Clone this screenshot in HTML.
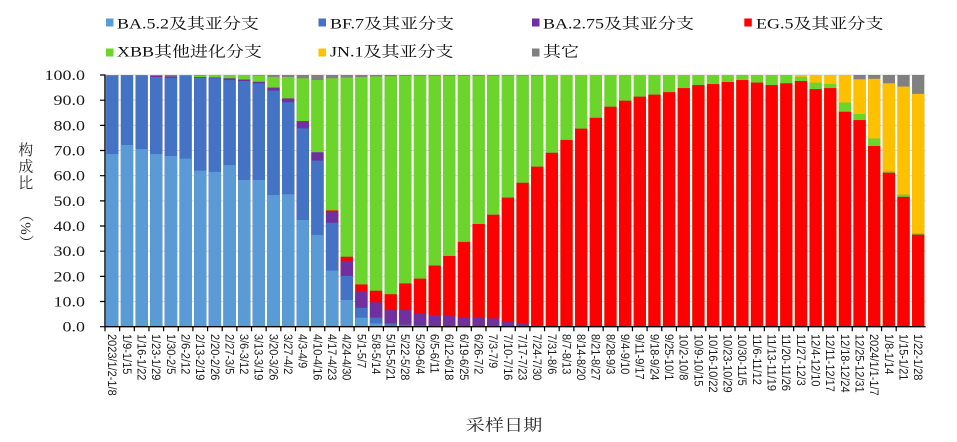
<!DOCTYPE html>
<html><head><meta charset="utf-8">
<style>
html,body{margin:0;padding:0;background:#fff;}
svg{display:block;}
.o{fill:#808080}.j{fill:#ffc000}.x{fill:#6cd52c}.e{fill:#ff0000}.p{fill:#7030a0}.b{fill:#4472c4}.a{fill:#5b9bd5}
.lg{font-family:"Liberation Serif","Noto Serif CJK SC",serif;font-size:15px;fill:#111;}
.yl{font-family:"Liberation Serif",serif;font-size:15px;fill:#1a1a1a;}
.xl{font-family:"Liberation Sans",sans-serif;font-size:11px;fill:#1a1a1a;}
.tt{font-family:"Liberation Serif","Noto Serif CJK SC",serif;fill:#2a2a2a;}
</style></head><body>
<svg width="957" height="442" viewBox="0 0 957 442" xmlns="http://www.w3.org/2000/svg">
<rect width="957" height="442" fill="#fff"/>
<!-- legend -->
<rect x="106" y="18.5" width="7.5" height="8" class="a"/>
<text class="lg" transform="translate(117,28.3) scale(1.2,1)">BA.5.2及其亚分支</text>
<rect x="318.5" y="18.5" width="7.5" height="8" class="b"/>
<text class="lg" transform="translate(330,28.3) scale(1.2,1)">BF.7及其亚分支</text>
<rect x="532" y="18.5" width="7.5" height="8" class="p"/>
<text class="lg" transform="translate(543,28.3) scale(1.2,1)">BA.2.75及其亚分支</text>
<rect x="744.3" y="18.5" width="7.5" height="8" class="e"/>
<text class="lg" transform="translate(756,28.3) scale(1.2,1)">EG.5及其亚分支</text>
<rect x="106" y="48.5" width="7.5" height="8" class="x"/>
<text class="lg" transform="translate(117,56.5) scale(1.2,1)">XBB其他进化分支</text>
<rect x="318.5" y="48.5" width="7.5" height="8" class="j"/>
<text class="lg" transform="translate(330,56.5) scale(1.2,1)">JN.1及其亚分支</text>
<rect x="532" y="48.5" width="7.5" height="8" class="o"/>
<text class="lg" transform="translate(543,56.5) scale(1.2,1)">其它</text>

<!-- gridlines -->
<g stroke="#d9d9d9" stroke-width="1">
<line x1="105" x2="925.5" y1="75" y2="75"/>
<line x1="105" x2="925.5" y1="100.17" y2="100.17"/>
<line x1="105" x2="925.5" y1="125.34" y2="125.34"/>
<line x1="105" x2="925.5" y1="150.51" y2="150.51"/>
<line x1="105" x2="925.5" y1="175.68" y2="175.68"/>
<line x1="105" x2="925.5" y1="200.85" y2="200.85"/>
<line x1="105" x2="925.5" y1="226.02" y2="226.02"/>
<line x1="105" x2="925.5" y1="251.19" y2="251.19"/>
<line x1="105" x2="925.5" y1="276.36" y2="276.36"/>
<line x1="105" x2="925.5" y1="301.53" y2="301.53"/>
</g>

<!-- bars -->
<g transform="translate(105,326.7) scale(14.652,-2.517)">
<rect x="0.08" width="0.84" height="100" class="o"/><rect x="0.08" width="0.84" height="99.6" class="b"/><rect x="0.08" width="0.84" height="68.6" class="a"/>
<rect x="1.08" width="0.84" height="100" class="o"/><rect x="1.08" width="0.84" height="99.8" class="b"/><rect x="1.08" width="0.84" height="72.2" class="a"/>
<rect x="2.08" width="0.84" height="100" class="o"/><rect x="2.08" width="0.84" height="99.7" class="b"/><rect x="2.08" width="0.84" height="70.6" class="a"/>
<rect x="3.08" width="0.84" height="100" class="o"/><rect x="3.08" width="0.84" height="99.6" class="p"/><rect x="3.08" width="0.84" height="99.2" class="b"/><rect x="3.08" width="0.84" height="68.6" class="a"/>
<rect x="4.08" width="0.84" height="100" class="o"/><rect x="4.08" width="0.84" height="99.4" class="p"/><rect x="4.08" width="0.84" height="98.9" class="b"/><rect x="4.08" width="0.84" height="67.8" class="a"/>
<rect x="5.08" width="0.84" height="100" class="o"/><rect x="5.08" width="0.84" height="99.6" class="b"/><rect x="5.08" width="0.84" height="66.8" class="a"/>
<rect x="6.08" width="0.84" height="100" class="o"/><rect x="6.08" width="0.84" height="99.8" class="x"/><rect x="6.08" width="0.84" height="99.2" class="p"/><rect x="6.08" width="0.84" height="99.0" class="b"/><rect x="6.08" width="0.84" height="62.0" class="a"/>
<rect x="7.08" width="0.84" height="100" class="x"/><rect x="7.08" width="0.84" height="99.0" class="p"/><rect x="7.08" width="0.84" height="98.7" class="b"/><rect x="7.08" width="0.84" height="61.5" class="a"/>
<rect x="8.08" width="0.84" height="100" class="x"/><rect x="8.08" width="0.84" height="98.7" class="p"/><rect x="8.08" width="0.84" height="98.0" class="b"/><rect x="8.08" width="0.84" height="64.2" class="a"/>
<rect x="9.08" width="0.84" height="100" class="x"/><rect x="9.08" width="0.84" height="98.2" class="p"/><rect x="9.08" width="0.84" height="97.6" class="b"/><rect x="9.08" width="0.84" height="58.3" class="a"/>
<rect x="10.08" width="0.84" height="100" class="o"/><rect x="10.08" width="0.84" height="99.8" class="x"/><rect x="10.08" width="0.84" height="97.3" class="p"/><rect x="10.08" width="0.84" height="96.7" class="b"/><rect x="10.08" width="0.84" height="58.3" class="a"/>
<rect x="11.08" width="0.84" height="100" class="o"/><rect x="11.08" width="0.84" height="99.2" class="x"/><rect x="11.08" width="0.84" height="95.0" class="p"/><rect x="11.08" width="0.84" height="93.8" class="b"/><rect x="11.08" width="0.84" height="52.3" class="a"/>
<rect x="12.08" width="0.84" height="100" class="o"/><rect x="12.08" width="0.84" height="99.2" class="x"/><rect x="12.08" width="0.84" height="90.7" class="p"/><rect x="12.08" width="0.84" height="89.2" class="b"/><rect x="12.08" width="0.84" height="52.6" class="a"/>
<rect x="13.08" width="0.84" height="100" class="o"/><rect x="13.08" width="0.84" height="98.7" class="x"/><rect x="13.08" width="0.84" height="81.7" class="p"/><rect x="13.08" width="0.84" height="78.8" class="b"/><rect x="13.08" width="0.84" height="42.4" class="a"/>
<rect x="14.08" width="0.84" height="100" class="o"/><rect x="14.08" width="0.84" height="98.0" class="x"/><rect x="14.08" width="0.84" height="69.3" class="p"/><rect x="14.08" width="0.84" height="66.0" class="b"/><rect x="14.08" width="0.84" height="36.4" class="a"/>
<rect x="15.08" width="0.84" height="100" class="o"/><rect x="15.08" width="0.84" height="98.7" class="x"/><rect x="15.08" width="0.84" height="46.2" class="e"/><rect x="15.08" width="0.84" height="45.7" class="p"/><rect x="15.08" width="0.84" height="41.3" class="b"/><rect x="15.08" width="0.84" height="22.3" class="a"/>
<rect x="16.08" width="0.84" height="100" class="o"/><rect x="16.08" width="0.84" height="99.0" class="x"/><rect x="16.08" width="0.84" height="27.8" class="e"/><rect x="16.08" width="0.84" height="26.2" class="p"/><rect x="16.08" width="0.84" height="20.2" class="b"/><rect x="16.08" width="0.84" height="10.6" class="a"/>
<rect x="17.08" width="0.84" height="100" class="o"/><rect x="17.08" width="0.84" height="99.2" class="x"/><rect x="17.08" width="0.84" height="16.8" class="e"/><rect x="17.08" width="0.84" height="14.2" class="p"/><rect x="17.08" width="0.84" height="7.5" class="b"/><rect x="17.08" width="0.84" height="3.6" class="a"/>
<rect x="18.08" width="0.84" height="100" class="o"/><rect x="18.08" width="0.84" height="99.4" class="x"/><rect x="18.08" width="0.84" height="14.3" class="e"/><rect x="18.08" width="0.84" height="9.7" class="p"/><rect x="18.08" width="0.84" height="3.6" class="b"/><rect x="18.08" width="0.84" height="1.3" class="a"/>
<rect x="19.08" width="0.84" height="100" class="o"/><rect x="19.08" width="0.84" height="99.5" class="x"/><rect x="19.08" width="0.84" height="12.9" class="e"/><rect x="19.08" width="0.84" height="6.6" class="p"/><rect x="19.08" width="0.84" height="1.3" class="b"/><rect x="19.08" width="0.84" height="0.3" class="a"/>
<rect x="20.08" width="0.84" height="100" class="o"/><rect x="20.08" width="0.84" height="99.6" class="x"/><rect x="20.08" width="0.84" height="17.2" class="e"/><rect x="20.08" width="0.84" height="6.6" class="p"/><rect x="20.08" width="0.84" height="0.8" class="b"/><rect x="20.08" width="0.84" height="0.2" class="a"/>
<rect x="21.08" width="0.84" height="100" class="o"/><rect x="21.08" width="0.84" height="99.7" class="x"/><rect x="21.08" width="0.84" height="19.1" class="e"/><rect x="21.08" width="0.84" height="5.3" class="p"/><rect x="21.08" width="0.84" height="0.5" class="b"/>
<rect x="22.08" width="0.84" height="100" class="o"/><rect x="22.08" width="0.84" height="99.7" class="x"/><rect x="22.08" width="0.84" height="24.3" class="e"/><rect x="22.08" width="0.84" height="4.6" class="p"/>
<rect x="23.08" width="0.84" height="100" class="o"/><rect x="23.08" width="0.84" height="99.7" class="x"/><rect x="23.08" width="0.84" height="28.1" class="e"/><rect x="23.08" width="0.84" height="4.2" class="p"/>
<rect x="24.08" width="0.84" height="100" class="o"/><rect x="24.08" width="0.84" height="99.7" class="x"/><rect x="24.08" width="0.84" height="33.7" class="e"/><rect x="24.08" width="0.84" height="3.8" class="p"/>
<rect x="25.08" width="0.84" height="100" class="o"/><rect x="25.08" width="0.84" height="99.7" class="x"/><rect x="25.08" width="0.84" height="40.8" class="e"/><rect x="25.08" width="0.84" height="3.6" class="p"/>
<rect x="26.08" width="0.84" height="100" class="o"/><rect x="26.08" width="0.84" height="99.7" class="x"/><rect x="26.08" width="0.84" height="44.5" class="e"/><rect x="26.08" width="0.84" height="3.3" class="p"/>
<rect x="27.08" width="0.84" height="100" class="o"/><rect x="27.08" width="0.84" height="99.8" class="x"/><rect x="27.08" width="0.84" height="51.3" class="e"/><rect x="27.08" width="0.84" height="2.0" class="p"/>
<rect x="28.08" width="0.84" height="100" class="o"/><rect x="28.08" width="0.84" height="99.8" class="x"/><rect x="28.08" width="0.84" height="57.2" class="e"/><rect x="28.08" width="0.84" height="1.4" class="p"/>
<rect x="29.08" width="0.84" height="100" class="o"/><rect x="29.08" width="0.84" height="99.8" class="x"/><rect x="29.08" width="0.84" height="63.6" class="e"/><rect x="29.08" width="0.84" height="0.5" class="p"/>
<rect x="30.08" width="0.84" height="100" class="x"/><rect x="30.08" width="0.84" height="69.1" class="e"/>
<rect x="31.08" width="0.84" height="100" class="x"/><rect x="31.08" width="0.84" height="74.2" class="e"/>
<rect x="32.08" width="0.84" height="100" class="x"/><rect x="32.08" width="0.84" height="78.7" class="e"/>
<rect x="33.08" width="0.84" height="100" class="x"/><rect x="33.08" width="0.84" height="83.0" class="e"/>
<rect x="34.08" width="0.84" height="100" class="x"/><rect x="34.08" width="0.84" height="87.4" class="e"/>
<rect x="35.08" width="0.84" height="100" class="x"/><rect x="35.08" width="0.84" height="89.8" class="e"/>
<rect x="36.08" width="0.84" height="100" class="x"/><rect x="36.08" width="0.84" height="91.4" class="e"/>
<rect x="37.08" width="0.84" height="100" class="x"/><rect x="37.08" width="0.84" height="92.2" class="e"/>
<rect x="38.08" width="0.84" height="100" class="x"/><rect x="38.08" width="0.84" height="93.2" class="e"/>
<rect x="39.08" width="0.84" height="100" class="x"/><rect x="39.08" width="0.84" height="94.8" class="e"/>
<rect x="40.08" width="0.84" height="100" class="x"/><rect x="40.08" width="0.84" height="96.0" class="e"/>
<rect x="41.08" width="0.84" height="100" class="x"/><rect x="41.08" width="0.84" height="96.4" class="e"/>
<rect x="42.08" width="0.84" height="100" class="x"/><rect x="42.08" width="0.84" height="97.2" class="e"/>
<rect x="43.08" width="0.84" height="100" class="x"/><rect x="43.08" width="0.84" height="98.0" class="e"/>
<rect x="44.08" width="0.84" height="100" class="x"/><rect x="44.08" width="0.84" height="97.0" class="e"/>
<rect x="45.08" width="0.84" height="100" class="x"/><rect x="45.08" width="0.84" height="96.0" class="e"/>
<rect x="46.08" width="0.84" height="100" class="x"/><rect x="46.08" width="0.84" height="96.7" class="e"/>
<rect x="47.08" width="0.84" height="100" class="j"/><rect x="47.08" width="0.84" height="99.3" class="x"/><rect x="47.08" width="0.84" height="97.6" class="e"/>
<rect x="48.08" width="0.84" height="100" class="j"/><rect x="48.08" width="0.84" height="97.0" class="x"/><rect x="48.08" width="0.84" height="94.4" class="e"/>
<rect x="49.08" width="0.84" height="100" class="j"/><rect x="49.08" width="0.84" height="96.4" class="x"/><rect x="49.08" width="0.84" height="94.8" class="e"/><rect x="49.08" width="0.84" height="0.4" class="p"/>
<rect x="50.08" width="0.84" height="100" class="j"/><rect x="50.08" width="0.84" height="89.1" class="x"/><rect x="50.08" width="0.84" height="85.4" class="e"/><rect x="50.08" width="0.84" height="0.4" class="p"/>
<rect x="51.08" width="0.84" height="100" class="o"/><rect x="51.08" width="0.84" height="98.3" class="j"/><rect x="51.08" width="0.84" height="84.5" class="x"/><rect x="51.08" width="0.84" height="82.1" class="e"/>
<rect x="52.08" width="0.84" height="100" class="o"/><rect x="52.08" width="0.84" height="98.5" class="j"/><rect x="52.08" width="0.84" height="74.8" class="x"/><rect x="52.08" width="0.84" height="71.8" class="e"/>
<rect x="53.08" width="0.84" height="100" class="o"/><rect x="53.08" width="0.84" height="96.7" class="j"/><rect x="53.08" width="0.84" height="61.7" class="x"/><rect x="53.08" width="0.84" height="61.2" class="e"/>
<rect x="54.08" width="0.84" height="100" class="o"/><rect x="54.08" width="0.84" height="95.4" class="j"/><rect x="54.08" width="0.84" height="52.5" class="x"/><rect x="54.08" width="0.84" height="51.6" class="e"/>
<rect x="55.08" width="0.84" height="100" class="o"/><rect x="55.08" width="0.84" height="92.5" class="j"/><rect x="55.08" width="0.84" height="37.1" class="x"/><rect x="55.08" width="0.84" height="36.6" class="e"/>
</g>

<!-- axes -->
<g stroke="#000" fill="none">
<line x1="105" y1="74.5" x2="105" y2="327.3" stroke-width="1.4"/>
<line x1="104.3" y1="326.7" x2="925.6" y2="326.7" stroke-width="1.4"/>
<path stroke-width="1.2" d="M100 75H105M100 100.17H105M100 125.34H105M100 150.51H105M100 175.68H105M100 200.85H105M100 226.02H105M100 251.19H105M100 276.36H105M100 301.53H105M100 326.7H105"/>
<path stroke-width="1.2" d="M105 326.7v4.5m14.652 -4.5v4.5m14.652 -4.5v4.5m14.652 -4.5v4.5m14.652 -4.5v4.5m14.652 -4.5v4.5m14.652 -4.5v4.5m14.652 -4.5v4.5m14.652 -4.5v4.5m14.652 -4.5v4.5m14.652 -4.5v4.5m14.652 -4.5v4.5m14.652 -4.5v4.5m14.652 -4.5v4.5m14.652 -4.5v4.5m14.652 -4.5v4.5m14.652 -4.5v4.5m14.652 -4.5v4.5m14.652 -4.5v4.5m14.652 -4.5v4.5m14.652 -4.5v4.5m14.652 -4.5v4.5m14.652 -4.5v4.5m14.652 -4.5v4.5m14.652 -4.5v4.5m14.652 -4.5v4.5m14.652 -4.5v4.5m14.652 -4.5v4.5m14.652 -4.5v4.5m14.652 -4.5v4.5m14.652 -4.5v4.5m14.652 -4.5v4.5m14.652 -4.5v4.5m14.652 -4.5v4.5m14.652 -4.5v4.5m14.652 -4.5v4.5m14.652 -4.5v4.5m14.652 -4.5v4.5m14.652 -4.5v4.5m14.652 -4.5v4.5m14.652 -4.5v4.5m14.652 -4.5v4.5m14.652 -4.5v4.5m14.652 -4.5v4.5m14.652 -4.5v4.5m14.652 -4.5v4.5m14.652 -4.5v4.5m14.652 -4.5v4.5m14.652 -4.5v4.5m14.652 -4.5v4.5m14.652 -4.5v4.5m14.652 -4.5v4.5m14.652 -4.5v4.5m14.652 -4.5v4.5m14.652 -4.5v4.5"/>
</g>

<!-- y labels -->
<g class="yl" text-anchor="end">
<text transform="translate(85,80) scale(1.2,1)">100.0</text>
<text transform="translate(85,105.17) scale(1.2,1)">90.0</text>
<text transform="translate(85,130.34) scale(1.2,1)">80.0</text>
<text transform="translate(85,155.51) scale(1.2,1)">70.0</text>
<text transform="translate(85,180.68) scale(1.2,1)">60.0</text>
<text transform="translate(85,205.85) scale(1.2,1)">50.0</text>
<text transform="translate(85,231.02) scale(1.2,1)">40.0</text>
<text transform="translate(85,256.19) scale(1.2,1)">30.0</text>
<text transform="translate(85,281.36) scale(1.2,1)">20.0</text>
<text transform="translate(85,306.53) scale(1.2,1)">10.0</text>
<text transform="translate(85,331.7) scale(1.2,1)">0.0</text>
</g>

<!-- y title -->
<g class="tt" font-size="15" text-anchor="middle">
<text x="25.8" y="155.2">构</text>
<text x="25.8" y="171.4">成</text>
<text x="25.8" y="188.2">比</text>
<text transform="translate(20.8,228.5) rotate(90)">（%）</text>
</g>

<!-- x title -->
<text class="tt" font-size="16" text-anchor="middle" transform="translate(504,430.6) scale(1.2,1)">采样日期</text>

<!-- x labels -->
<g class="xl">
<text transform="translate(108.2,334) rotate(90) scale(1,1.1)">2023/1/2-1/8</text>
<text transform="translate(122.85,334) rotate(90) scale(1,1.1)">1/9-1/15</text>
<text transform="translate(137.5,334) rotate(90) scale(1,1.1)">1/16-1/22</text>
<text transform="translate(152.16,334) rotate(90) scale(1,1.1)">1/23-1/29</text>
<text transform="translate(166.81,334) rotate(90) scale(1,1.1)">1/30-2/5</text>
<text transform="translate(181.46,334) rotate(90) scale(1,1.1)">2/6-2/12</text>
<text transform="translate(196.11,334) rotate(90) scale(1,1.1)">2/13-2/19</text>
<text transform="translate(210.76,334) rotate(90) scale(1,1.1)">2/20-2/26</text>
<text transform="translate(225.42,334) rotate(90) scale(1,1.1)">2/27-3/5</text>
<text transform="translate(240.07,334) rotate(90) scale(1,1.1)">3/6-3/12</text>
<text transform="translate(254.72,334) rotate(90) scale(1,1.1)">3/13-3/19</text>
<text transform="translate(269.37,334) rotate(90) scale(1,1.1)">3/20-3/26</text>
<text transform="translate(284.02,334) rotate(90) scale(1,1.1)">3/27-4/2</text>
<text transform="translate(298.68,334) rotate(90) scale(1,1.1)">4/3-4/9</text>
<text transform="translate(313.33,334) rotate(90) scale(1,1.1)">4/10-4/16</text>
<text transform="translate(327.98,334) rotate(90) scale(1,1.1)">4/17-4/23</text>
<text transform="translate(342.63,334) rotate(90) scale(1,1.1)">4/24-4/30</text>
<text transform="translate(357.28,334) rotate(90) scale(1,1.1)">5/1-5/7</text>
<text transform="translate(371.94,334) rotate(90) scale(1,1.1)">5/8-5/14</text>
<text transform="translate(386.59,334) rotate(90) scale(1,1.1)">5/15-5/21</text>
<text transform="translate(401.24,334) rotate(90) scale(1,1.1)">5/22-5/28</text>
<text transform="translate(415.89,334) rotate(90) scale(1,1.1)">5/29-6/4</text>
<text transform="translate(430.54,334) rotate(90) scale(1,1.1)">6/5-6/11</text>
<text transform="translate(445.2,334) rotate(90) scale(1,1.1)">6/12-6/18</text>
<text transform="translate(459.85,334) rotate(90) scale(1,1.1)">6/19-6/25</text>
<text transform="translate(474.5,334) rotate(90) scale(1,1.1)">6/26-7/2</text>
<text transform="translate(489.15,334) rotate(90) scale(1,1.1)">7/3-7/9</text>
<text transform="translate(503.8,334) rotate(90) scale(1,1.1)">7/10-7/16</text>
<text transform="translate(518.46,334) rotate(90) scale(1,1.1)">7/17-7/23</text>
<text transform="translate(533.11,334) rotate(90) scale(1,1.1)">7/24-7/30</text>
<text transform="translate(547.76,334) rotate(90) scale(1,1.1)">7/31-8/6</text>
<text transform="translate(562.41,334) rotate(90) scale(1,1.1)">8/7-8/13</text>
<text transform="translate(577.06,334) rotate(90) scale(1,1.1)">8/14-8/20</text>
<text transform="translate(591.72,334) rotate(90) scale(1,1.1)">8/21-8/27</text>
<text transform="translate(606.37,334) rotate(90) scale(1,1.1)">8/28-9/3</text>
<text transform="translate(621.02,334) rotate(90) scale(1,1.1)">9/4-9/10</text>
<text transform="translate(635.67,334) rotate(90) scale(1,1.1)">9/11-9/17</text>
<text transform="translate(650.32,334) rotate(90) scale(1,1.1)">9/18-9/24</text>
<text transform="translate(664.98,334) rotate(90) scale(1,1.1)">9/25-10/1</text>
<text transform="translate(679.63,334) rotate(90) scale(1,1.1)">10/2-10/8</text>
<text transform="translate(694.28,334) rotate(90) scale(1,1.1)">10/9-10/15</text>
<text transform="translate(708.93,334) rotate(90) scale(1,1.1)">10/16-10/22</text>
<text transform="translate(723.58,334) rotate(90) scale(1,1.1)">10/23-10/29</text>
<text transform="translate(738.24,334) rotate(90) scale(1,1.1)">10/30-11/5</text>
<text transform="translate(752.89,334) rotate(90) scale(1,1.1)">11/6-11/12</text>
<text transform="translate(767.54,334) rotate(90) scale(1,1.1)">11/13-11/19</text>
<text transform="translate(782.19,334) rotate(90) scale(1,1.1)">11/20-11/26</text>
<text transform="translate(796.84,334) rotate(90) scale(1,1.1)">11/27-12/3</text>
<text transform="translate(811.5,334) rotate(90) scale(1,1.1)">12/4-12/10</text>
<text transform="translate(826.15,334) rotate(90) scale(1,1.1)">12/11-12/17</text>
<text transform="translate(840.8,334) rotate(90) scale(1,1.1)">12/18-12/24</text>
<text transform="translate(855.45,334) rotate(90) scale(1,1.1)">12/25-12/31</text>
<text transform="translate(870.1,334) rotate(90) scale(1,1.1)">2024/1/1-1/7</text>
<text transform="translate(884.76,334) rotate(90) scale(1,1.1)">1/8-1/14</text>
<text transform="translate(899.41,334) rotate(90) scale(1,1.1)">1/15-1/21</text>
<text transform="translate(914.06,334) rotate(90) scale(1,1.1)">1/22-1/28</text>
</g>
</svg>
</body></html>
